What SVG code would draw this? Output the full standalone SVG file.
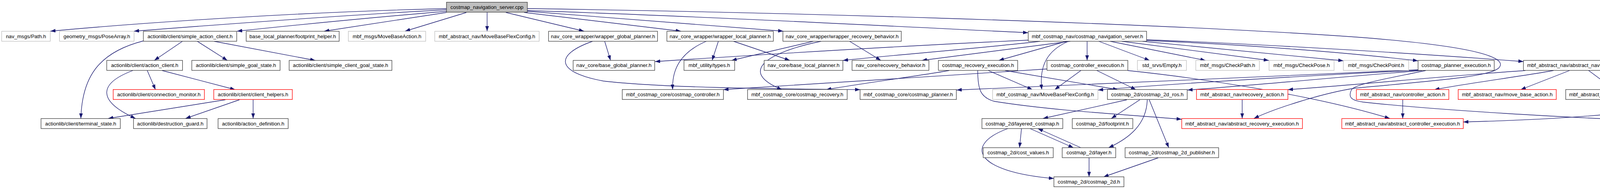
<svg xmlns="http://www.w3.org/2000/svg" width="4651" height="485" viewBox="0 0 4651 485">
<style>
.n rect{fill:#fff;stroke:#404040;stroke-width:1.33}
.n.g rect{stroke:#bfbfbf}
.n.r rect{stroke:#ff0000}
.n.root rect{fill:#bfbfbf}
text{font-family:"Liberation Sans",Arial,Helvetica,sans-serif;font-size:13.3px;text-anchor:middle;fill:#000}
#edges path{fill:none;stroke:#191970;stroke-width:1.33;marker-end:url(#a)}
</style>
<defs>
<marker id="a" markerUnits="userSpaceOnUse" markerWidth="14" markerHeight="10" refX="13" refY="4.65" orient="auto" viewBox="0 0 14 10">
<path d="M0,0 L13,4.65 L0,9.3 z" fill="#191970" stroke="none"/>
</marker>
</defs>
<rect width="4651" height="485" fill="#fff"/>
<g id="edges">
<path d="M1143,22 C800,30 400,55 129,80"/>
<path d="M1143,25 C900,38 600,60 343,80"/>
<path d="M1143,29 C950,45 750,65 607,80"/>
<path d="M1143,32 L830,80"/>
<path d="M1194,32 L1037,80"/>
<path d="M1247,32 L1247,80"/>
<path d="M1295,32 L1495,80"/>
<path d="M1342,32 L1743,80"/>
<path d="M1350,29 L2005,80"/>
<path d="M1350,27 C1800,42 2300,68 2632,84"/>
<path d="M1350,22 C1900,30 2900,55 3470,95 C3800,120 3850,150 3840,170 C3830,195 3700,205 3470,226 C3380,240 3260,280 3210,304"/>
<path d="M367,105 C250,135 210,200 207,304"/>
<path d="M467,106 L395,155"/>
<path d="M505,106 L582,155"/>
<path d="M548,106 L807,155"/>
<path d="M377,181 L398,230"/>
<path d="M415,181 L602,230"/>
<path d="M340,181 C250,215 250,260 347,304"/>
<path d="M577,256 L277,304"/>
<path d="M613,256 L475,304"/>
<path d="M648,256 L648,304"/>
<path d="M1548,106 L1563,155"/>
<path d="M1517,106 C1420,140 1420,185 1545,208 C1700,226 2000,228 2202,230"/>
<path d="M1808,106 C1740,135 1720,180 1722,230"/>
<path d="M1839,106 L1823,155"/>
<path d="M1878,106 L2022,155"/>
<path d="M2082,106 L1873,155"/>
<path d="M2102,106 C1960,135 1890,185 2002,230"/>
<path d="M2175,106 L2255,155"/>
<path d="M2632,103 C2300,118 1950,140 1677,158"/>
<path d="M2663,106 C2500,125 2300,140 2158,155"/>
<path d="M2740,106 L2360,155"/>
<path d="M2730,106 L2557,155"/>
<path d="M2735,106 C2680,130 2660,170 2667,230"/>
<path d="M2783,106 L2783,155"/>
<path d="M2813,106 L2943,155"/>
<path d="M2842,106 L3086,155"/>
<path d="M2872,106 L3248,155"/>
<path d="M2925,106 L3439,156"/>
<path d="M2935,104 C3200,115 3450,135 3630,156"/>
<path d="M2935,102 C3200,112 3600,135 3900,158"/>
<path d="M2430,181 C2350,195 2200,215 2115,230"/>
<path d="M2680,177 C2400,195 2100,215 1852,230"/>
<path d="M2530,181 L2643,230"/>
<path d="M2573,181 L2862,230"/>
<path d="M2503,181 C2503,230 2510,250 2545,260 C2700,285 2900,295 3025,306"/>
<path d="M2767,181 L2700,230"/>
<path d="M2808,181 L2908,230"/>
<path d="M2887,181 C3050,198 3350,240 3558,304"/>
<path d="M3632,179 C3300,195 2800,215 2449,231"/>
<path d="M3632,180 C3300,197 3000,215 2811,231"/>
<path d="M3640,181 C3400,200 3200,220 3040,231"/>
<path d="M3650,181 C3560,200 3470,215 3460,230 C3450,250 3460,258 3490,262 C3700,285 4000,300 4233,311"/>
<path d="M2885,256 L2670,304"/>
<path d="M2918,256 L2845,304"/>
<path d="M2937,256 C2935,320 2890,355 2838,379"/>
<path d="M2942,256 L2992,379"/>
<path d="M2965,405 L2825,454"/>
<path d="M2788,405 L2788,454"/>
<path d="M2637,330 L2748,379"/>
<path d="M2767,379 L2657,330"/>
<path d="M2615,330 L2610,379"/>
<path d="M2580,330 C2470,370 2490,440 2698,458"/>
<path d="M3180,256 L3180,304"/>
<path d="M3591,256 L3591,304"/>
<path d="M4508,256 L4415,304"/>
<path d="M4018,181 L3893,230"/>
<path d="M4067,181 L4133,230"/>
<path d="M3977,181 C3900,195 3750,215 3672,230"/>
<path d="M3905,181 C3700,195 3450,220 3297,230"/>
<path d="M4127,181 L4450,230"/>
<path d="M4167,181 C4300,200 4370,240 4382,304"/>
<path d="M4198,178 C4300,200 4340,240 4300,263 C4250,285 4050,305 3746,313"/>
</g>
<g id="n1" class="n root"><rect x="1143" y="5.7" width="207" height="25.6"/><text x="1246.5" y="23">costmap_navigation_server.cpp</text></g>
<g id="n2" class="n g"><rect x="4.3" y="80.3" width="124.4" height="25.6"/><text x="66.5" y="97.6">nav_msgs/Path.h</text></g>
<g id="n3" class="n g"><rect x="152.3" y="80.3" width="191" height="25.6"/><text x="247.8" y="97.6">geometry_msgs/PoseArray.h</text></g>
<g id="n4" class="n"><rect x="367" y="80.3" width="239" height="25.6"/><text x="486.5" y="97.6">actionlib/client/simple_action_client.h</text></g>
<g id="n5" class="n"><rect x="630.3" y="80.3" width="238" height="25.6"/><text x="749.3" y="97.6">base_local_planner/footprint_helper.h</text></g>
<g id="n6" class="n g"><rect x="891.7" y="80.3" width="198" height="25.6"/><text x="990.7" y="97.6">mbf_msgs/MoveBaseAction.h</text></g>
<g id="n7" class="n g"><rect x="1113" y="80.3" width="267.3" height="25.6"/><text x="1246.7" y="97.6">mbf_abstract_nav/MoveBaseFlexConfig.h</text></g>
<g id="n8" class="n"><rect x="1404.3" y="80.3" width="279" height="25.6"/><text x="1543.8" y="97.6">nav_core_wrapper/wrapper_global_planner.h</text></g>
<g id="n9" class="n"><rect x="1707.3" y="80.3" width="272.4" height="25.6"/><text x="1843.5" y="97.6">nav_core_wrapper/wrapper_local_planner.h</text></g>
<g id="n10" class="n"><rect x="2004.3" y="80.3" width="303" height="25.6"/><text x="2155.8" y="97.6">nav_core_wrapper/wrapper_recovery_behavior.h</text></g>
<g id="n11" class="n"><rect x="2632.3" y="80.3" width="303" height="25.6"/><text x="2783.8" y="97.6">mbf_costmap_nav/costmap_navigation_server.h</text></g>
<g id="n12" class="n"><rect x="273.3" y="155" width="194" height="25.6"/><text x="370.3" y="172.3">actionlib/client/action_client.h</text></g>
<g id="n13" class="n"><rect x="491" y="155" width="226" height="25.6"/><text x="604" y="172.3">actionlib/client/simple_goal_state.h</text></g>
<g id="n14" class="n"><rect x="740.3" y="155" width="263" height="25.6"/><text x="871.8" y="172.3">actionlib/client/simple_client_goal_state.h</text></g>
<g id="n15" class="n"><rect x="1467.3" y="155" width="208.7" height="25.6"/><text x="1571.7" y="172.3">nav_core/base_global_planner.h</text></g>
<g id="n16" class="n"><rect x="1751" y="155" width="129.7" height="25.6"/><text x="1815.8" y="172.3">mbf_utility/types.h</text></g>
<g id="n17" class="n"><rect x="1956.3" y="155" width="201.4" height="25.6"/><text x="2057" y="172.3">nav_core/base_local_planner.h</text></g>
<g id="n18" class="n"><rect x="2181.3" y="155" width="196.7" height="25.6"/><text x="2279.7" y="172.3">nav_core/recovery_behavior.h</text></g>
<g id="n19" class="n"><rect x="2402.3" y="155" width="203" height="25.6"/><text x="2503.8" y="172.3">costmap_recovery_execution.h</text></g>
<g id="n20" class="n"><rect x="2680.3" y="155" width="207" height="25.6"/><text x="2783.8" y="172.3">costmap_controller_execution.h</text></g>
<g id="n21" class="n g"><rect x="2911.7" y="155" width="125.6" height="25.6"/><text x="2974.5" y="172.3">std_srvs/Empty.h</text></g>
<g id="n22" class="n g"><rect x="3061.3" y="155" width="162.7" height="25.6"/><text x="3142.7" y="172.3">mbf_msgs/CheckPath.h</text></g>
<g id="n23" class="n g"><rect x="3248.7" y="155" width="166.6" height="25.6"/><text x="3332" y="172.3">mbf_msgs/CheckPose.h</text></g>
<g id="n24" class="n g"><rect x="3439" y="155" width="167.3" height="25.6"/><text x="3522.7" y="172.3">mbf_msgs/CheckPoint.h</text></g>
<g id="n25" class="n"><rect x="3630.3" y="155" width="195" height="25.6"/><text x="3727.8" y="172.3">costmap_planner_execution.h</text></g>
<g id="n26" class="n"><rect x="3900" y="155" width="298.3" height="25.6"/><text x="4049.2" y="172.3">mbf_abstract_nav/abstract_navigation_server.h</text></g>
<g id="n27" class="n r"><rect x="289.7" y="229.7" width="233.6" height="25.6"/><text x="406.5" y="247">actionlib/client/connection_monitor.h</text></g>
<g id="n28" class="n r"><rect x="547.3" y="229.7" width="201" height="25.6"/><text x="647.8" y="247">actionlib/client/client_helpers.h</text></g>
<g id="n29" class="n"><rect x="1593" y="229.7" width="259" height="25.6"/><text x="1722.5" y="247">mbf_costmap_core/costmap_controller.h</text></g>
<g id="n30" class="n"><rect x="1913.7" y="229.7" width="255" height="25.6"/><text x="2041.2" y="247">mbf_costmap_core/costmap_recovery.h</text></g>
<g id="n31" class="n"><rect x="2201.7" y="229.7" width="246.6" height="25.6"/><text x="2325" y="247">mbf_costmap_core/costmap_planner.h</text></g>
<g id="n32" class="n g"><rect x="2541" y="229.7" width="269.7" height="25.6"/><text x="2675.8" y="247">mbf_costmap_nav/MoveBaseFlexConfig.h</text></g>
<g id="n33" class="n"><rect x="2835" y="229.7" width="204.3" height="25.6"/><text x="2937.2" y="247">costmap_2d/costmap_2d_ros.h</text></g>
<g id="n34" class="n r"><rect x="3063" y="229.7" width="234" height="25.6"/><text x="3180" y="247">mbf_abstract_nav/recovery_action.h</text></g>
<g id="n35" class="n r"><rect x="3472.3" y="229.7" width="236.7" height="25.6"/><text x="3590.7" y="247">mbf_abstract_nav/controller_action.h</text></g>
<g id="n36" class="n r"><rect x="3733" y="229.7" width="251" height="25.6"/><text x="3858.5" y="247">mbf_abstract_nav/move_base_action.h</text></g>
<g id="n37" class="n"><rect x="4008.3" y="229.7" width="287" height="25.6"/><text x="4151.8" y="247">mbf_abstract_nav/abstract_plugin_manager.h</text></g>
<g id="n38" class="n r"><rect x="4420.7" y="229.7" width="225.6" height="25.6"/><text x="4533.5" y="247">mbf_abstract_nav/planner_action.h</text></g>
<g id="n39" class="n"><rect x="105" y="304.3" width="203" height="25.6"/><text x="206.5" y="321.6">actionlib/client/terminal_state.h</text></g>
<g id="n40" class="n"><rect x="341.7" y="304.3" width="188.3" height="25.6"/><text x="435.8" y="321.6">actionlib/destruction_guard.h</text></g>
<g id="n41" class="n"><rect x="558.3" y="304.3" width="179.4" height="25.6"/><text x="648" y="321.6">actionlib/action_definition.h</text></g>
<g id="n42" class="n"><rect x="2513.7" y="304.3" width="207" height="25.6"/><text x="2617.2" y="321.6">costmap_2d/layered_costmap.h</text></g>
<g id="n43" class="n"><rect x="2745" y="304.3" width="155" height="25.6"/><text x="2822.5" y="321.6">costmap_2d/footprint.h</text></g>
<g id="n44" class="n r"><rect x="3025.3" y="304.3" width="309" height="25.6"/><text x="3179.8" y="321.6">mbf_abstract_nav/abstract_recovery_execution.h</text></g>
<g id="n45" class="n r"><rect x="3435" y="304.3" width="311" height="25.6"/><text x="3590.5" y="321.6">mbf_abstract_nav/abstract_controller_execution.h</text></g>
<g id="n46" class="n r"><rect x="4233.7" y="304.3" width="300.3" height="25.6"/><text x="4383.8" y="321.6">mbf_abstract_nav/abstract_planner_execution.h</text></g>
<g id="n47" class="n"><rect x="2517" y="379" width="179.3" height="25.6"/><text x="2606.7" y="396.3">costmap_2d/cost_values.h</text></g>
<g id="n48" class="n"><rect x="2719.3" y="379" width="137" height="25.6"/><text x="2787.8" y="396.3">costmap_2d/layer.h</text></g>
<g id="n49" class="n"><rect x="2880.3" y="379" width="239.4" height="25.6"/><text x="3000" y="396.3">costmap_2d/costmap_2d_publisher.h</text></g>
<g id="n50" class="n"><rect x="2698" y="453.7" width="179.3" height="25.6"/><text x="2787.7" y="471">costmap_2d/costmap_2d.h</text></g>
</svg>
